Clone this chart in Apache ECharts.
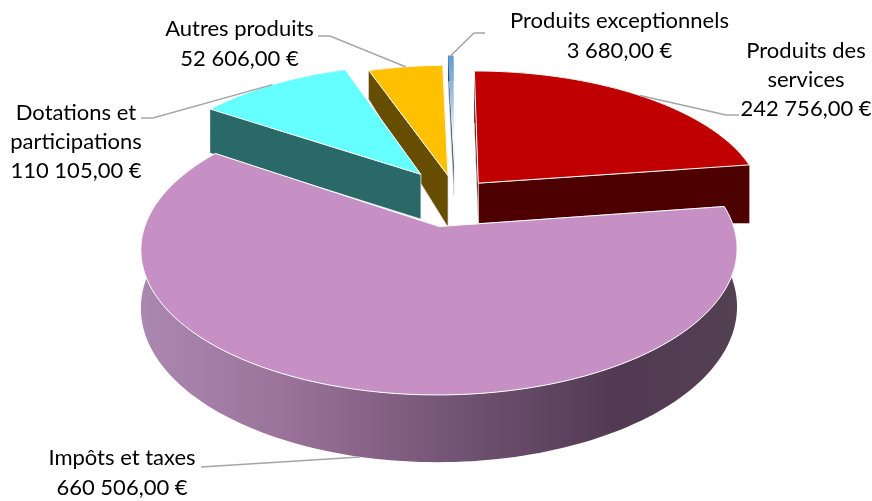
<!DOCTYPE html>
<html>
<head>
<meta charset="utf-8">
<style>
  html, body { margin: 0; padding: 0; background: #fff; }
  #chart { width: 872px; height: 501px; }
</style>
<script src="https://cdn.jsdelivr.net/npm/echarts@6/dist/echarts.min.js"></script>
</head>
<body>
<div id="chart"></div>
<script>
// data, clockwise from 12 o'clock
const sliceNames = ['Produits des\nservices', 'Impôts et taxes', 'Dotations et\nparticipations', 'Autres produits', 'Produits exceptionnels']
const sliceValues = [242756, 660506, 110105, 52606, 3680]

// slice looks
const topColors = ['#c00000', '#c690c4', '#66ffff', '#ffc000', '#5b9bd5']
const wallColors = ['#4d0000', '#6b4f6e', '#296a69', '#664d00', '#2c4a6b']
const explodeX = [0.108, -0.03, -0.098, 0.0, 0.022]
const explodeY = [-0.121, 0.2, -0.19, -0.18, -0.28]
const rimDepth = [61, 55, 49, 34, 30]
const tipDepth = [41, 40, 46, 53, 34]
const paintOrder = [3, 4, 2, 0, 1]

// label anchor (centre of the text block) and leader elbows
const labelPos = [[806, 80], [122, 473], [76, 142], [239.5, 44], [619.5, 36]]
const leaderElbows = [
  [[726, 115], [739, 115]],
  [[201, 467]],
  [[153, 118], [141, 118]],
  [[330, 36], [318, 36]],
  [[474, 33], [485, 33]]
]
const leaderDrop = [0, 1, 0, 0, 0]

// pseudo 3d view of the disc
const view = { cx: 448, cy: 199, r: 285.5, ry: 133.6, persp: 0.1515 }

const total = sliceValues.reduce((a, b) => a + b, 0)
const slices = []
let acc = 0
sliceValues.forEach((v) => {
  const a0 = acc / total * Math.PI * 2
  acc += v
  slices.push({ a0, a1: acc / total * Math.PI * 2 })
})

const project = (x, y, drop) => {
  const w = 1 / (1 - view.persp * y)
  return [view.cx + view.r * x * w, view.cy + view.ry * y * w + (drop || 0) * w]
}

const formatEuro = (v) => v.toFixed(2).replace('.', ',').replace(/\B(?=(\d{3})+,)/g, ' ') + ' €'

const renderItem = (params) => {
  const i = params.dataIndex
  const { a0, a1 } = slices[i]
  const mid = (a0 + a1) / 2
  const ox = explodeX[i]
  const oy = explodeY[i]
  const rimPoint = (a, drop) => project(ox + Math.sin(a), oy - Math.cos(a), drop)
  const z = paintOrder[i] * 10
  const rim = []
  const steps = Math.max(2, Math.ceil((a1 - a0) * 40))
  for (let k = 0; k <= steps; k++) rim.push(a0 + (a1 - a0) * k / steps)

  const tipTop = project(ox, oy, 0)
  const tipBottom = project(ox, oy, tipDepth[i])
  const children = []

  // the two cut faces, far one first
  ;[a1, a0].forEach((a) => {
    children.push({
      type: 'polygon',
      z2: z,
      shape: { points: [tipTop, rimPoint(a, 0), rimPoint(a, rimDepth[i]), tipBottom] },
      style: { fill: wallColors[i], stroke: '#e8e8e8', lineWidth: 0.6 }
    })
  })

  // outer wall
  const wallFill = i === 1
    ? new echarts.graphic.LinearGradient(0, 0, 1, 0, [
        { offset: 0, color: '#ab88b1' },
        { offset: 0.25, color: '#9a7299' },
        { offset: 0.55, color: '#6f5170' },
        { offset: 0.8, color: '#523a52' },
        { offset: 1, color: '#534053' }
      ])
    : wallColors[i]
  children.push({
    type: 'polygon',
    z2: z + 1,
    shape: {
      points: rim.map((a) => rimPoint(a, 0)).concat(rim.slice().reverse().map((a) => rimPoint(a, rimDepth[i])))
    },
    style: { fill: wallFill }
  })

  // top face
  const topFill = i === 4
    ? new echarts.graphic.LinearGradient(0, 0, 0, 1, [
        { offset: 0, color: topColors[i] },
        { offset: 0.45, color: '#a9cbea' },
        { offset: 0.75, color: '#ffffff' }
      ])
    : topColors[i]
  children.push({
    type: 'polygon',
    z2: z + 2,
    shape: { points: [tipTop].concat(rim.map((a) => rimPoint(a, 0))) },
    style: i === 4 ? { fill: topFill } : { fill: topFill, stroke: '#ffffff', lineWidth: 1 }
  })

  // leader line and label
  children.push({
    type: 'polyline',
    z2: 100,
    shape: { points: [rimPoint(mid, leaderDrop[i] ? rimDepth[i] : 0)].concat(leaderElbows[i]) },
    style: { fill: null, stroke: '#a6a6a6', lineWidth: 1.5 }
  })
  children.push({
    type: 'text',
    z2: 101,
    style: {
      text: sliceNames[i] + '\n' + formatEuro(sliceValues[i]),
      x: labelPos[i][0],
      y: labelPos[i][1],
      align: 'center',
      verticalAlign: 'middle',
      font: '22px Lato',
      lineHeight: 29.4,
      fill: '#000000'
    }
  })
  return { type: 'group', children }
}

const chart = echarts.init(document.getElementById('chart'), null, { renderer: 'canvas' })
chart.setOption({
  animation: false,
  backgroundColor: '#ffffff',
  series: [{
    type: 'custom',
    coordinateSystem: 'none',
    renderItem,
    data: sliceValues,
    silent: true
  }]
})
</script>
</body>
</html>
